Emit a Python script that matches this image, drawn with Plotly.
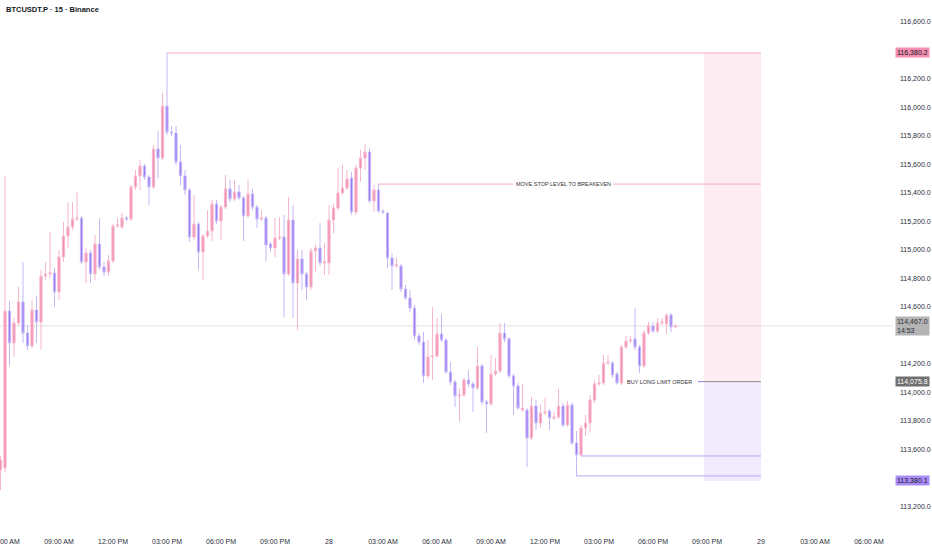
import pandas as pd
import plotly.graph_objs as go

# BTCUSDT.P 15m candles, 27 Jul 05:45 -> 28 Jul 19:15
opens = [113457, 113471, 114571, 114347, 114487, 114635, 114417, 114326, 114578, 114494,
         114817, 114831, 114838, 114705, 114950, 115097, 115160, 115216, 115223, 114915,
         114978, 114831, 115041, 114880, 114845, 114922, 115167, 115160, 115223, 115216,
         115441, 115518, 115588, 115511, 115441, 115707, 115644, 116008, 115826, 115819,
         115616, 115518, 115420, 115090, 115181, 114985, 115097, 115132, 115322, 115202,
         115300, 115427, 115357, 115406, 115364, 115237, 115392, 115300, 115216, 115223,
         115041, 115013, 115083, 115090, 114831, 115209, 114768, 114936, 114831, 114740,
         114992, 115013, 114908, 114908, 115209, 115293, 115399, 115434, 115504, 115265,
         115574, 115644, 115686, 115343, 115420, 115272, 115258, 114943, 114887, 114887,
         114726, 114663, 114592, 114396, 114354, 114116, 114249, 114256, 114410, 114368,
         114144, 114074, 113976, 113983, 114088, 114060, 114032, 114186, 113934, 113920,
         114130, 114151, 114417, 114375, 114116, 114046, 113877, 113877, 113681, 113905,
         113786, 113856, 113870, 113821, 113828, 113905, 113772, 113912, 113646, 113562,
         113751, 113786, 113948, 114060, 114067, 114207, 114207, 114130, 114067, 114319,
         114361, 114375, 114319, 114186, 114417, 114466, 114431, 114487, 114480, 114543,
         114459]
highs = [113555, 115518, 114642, 114522, 114740, 114915, 114473, 114649, 114677, 114859,
         114915, 115125, 114873, 114999, 115195, 115336, 115336, 115406, 115237, 115013,
         114999, 115104, 115223, 114915, 114964, 115181, 115223, 115258, 115237, 115455,
         115560, 115630, 115602, 115525, 115735, 115833, 116100, 116380.2, 115868, 115868,
         115735, 115560, 115434, 115385, 115195, 115111, 115279, 115350, 115350, 115314,
         115525, 115490, 115490, 115455, 115378, 115490, 115427, 115314, 115279, 115237,
         115055, 115223, 115230, 115244, 115371, 115314, 114999, 114999, 114845, 115013,
         115034, 115188, 115048, 115314, 115322, 115574, 115595, 115560, 115546, 115595,
         115700, 115742, 115714, 115455, 115462, 115286, 115265, 114978, 114943, 114901,
         114754, 114719, 114613, 114417, 114424, 114368, 114599, 114522, 114550, 114382,
         114214, 114088, 114032, 114102, 114158, 114074, 114319, 114200, 113948, 114263,
         114242, 114487, 114487, 114389, 114130, 114067, 114060, 113891, 113969, 113948,
         113912, 113962, 113884, 113863, 114025, 113927, 113941, 113927, 113730, 113772,
         113842, 113983, 114088, 114123, 114263, 114263, 114221, 114144, 114333, 114396,
         114396, 114592, 114333, 114438, 114494, 114494, 114522, 114522, 114557, 114557,
         114480]
lows = [113317, 113443, 114186, 114249, 114473, 114347, 114298, 114312, 114347, 114298,
        114789, 114803, 114599, 114649, 114915, 115013, 115139, 115202, 114901, 114768,
        114768, 114789, 114859, 114817, 114817, 114908, 115153, 115146, 115202, 115202,
        115420, 115420, 115490, 115314, 115427, 115504, 115630, 115805, 115798, 115595,
        115455, 115385, 115055, 115069, 114859, 114789, 115083, 115062, 115181, 115069,
        115286, 115336, 115343, 115350, 115062, 115223, 115279, 115153, 115202, 114915,
        114985, 114950, 115069, 114529, 114817, 114522, 114438, 114719, 114649, 114719,
        114845, 114887, 114824, 114824, 115118, 115279, 115385, 115420, 115244, 115244,
        115476, 115560, 115329, 115265, 115258, 115251, 114873, 114719, 114873, 114705,
        114649, 114564, 114368, 114333, 114067, 114102, 114088, 114242, 114354, 114130,
        114053, 113898, 113793, 113969, 114039, 113863, 114018, 113912, 113716, 113905,
        114116, 114137, 114354, 114102, 113842, 113877, 113863, 113478, 113667, 113737,
        113751, 113842, 113737, 113807, 113814, 113758, 113758, 113632, 113415, 113555,
        113695, 113723, 113927, 114046, 114053, 114193, 114102, 114053, 114053, 114305,
        114347, 114298, 114137, 114172, 114403, 114417, 114417, 114473, 114410, 114424,
        114452]
closes = [113527, 114571, 114347, 114487, 114635, 114417, 114326, 114578, 114494, 114817,
          114831, 114838, 114705, 114950, 115097, 115160, 115216, 115223, 114915, 114978,
          114831, 115041, 114880, 114845, 114922, 115167, 115174, 115223, 115216, 115441,
          115518, 115588, 115511, 115441, 115707, 115644, 116008, 115826, 115819, 115616,
          115518, 115420, 115090, 115181, 114985, 115097, 115132, 115322, 115202, 115300,
          115427, 115357, 115406, 115364, 115237, 115392, 115300, 115216, 115223, 115034,
          115013, 115083, 115090, 114831, 115209, 114768, 114936, 114831, 114740, 114992,
          115013, 114908, 114915, 115209, 115293, 115399, 115434, 115497, 115265, 115574,
          115644, 115686, 115343, 115420, 115272, 115265, 114943, 114887, 114894, 114726,
          114663, 114592, 114396, 114354, 114116, 114249, 114256, 114410, 114368, 114144,
          114074, 113976, 113983, 114088, 114060, 114032, 114186, 113934, 113920, 114130,
          114151, 114417, 114375, 114116, 114046, 113891, 113891, 113681, 113905, 113786,
          113856, 113863, 113821, 113828, 113905, 113772, 113912, 113646, 113562, 113751,
          113786, 113948, 114060, 114067, 114207, 114214, 114123, 114067, 114319, 114361,
          114368, 114319, 114186, 114417, 114466, 114431, 114487, 114494, 114543, 114459,
          114467.0]

times = pd.date_range("2025-07-27 05:45", periods=len(closes), freq="15min")

tick_times = ["2025-07-27 06:00", "2025-07-27 09:00", "2025-07-27 12:00", "2025-07-27 15:00",
              "2025-07-27 18:00", "2025-07-27 21:00", "2025-07-28 00:00", "2025-07-28 03:00",
              "2025-07-28 06:00", "2025-07-28 09:00", "2025-07-28 12:00", "2025-07-28 15:00",
              "2025-07-28 18:00", "2025-07-28 21:00", "2025-07-29 00:00", "2025-07-29 03:00",
              "2025-07-29 06:00"]
tick_labels = ["06:00 AM", "09:00 AM", "12:00 PM", "03:00 PM", "06:00 PM", "09:00 PM", "28",
               "03:00 AM", "06:00 AM", "09:00 AM", "12:00 PM", "03:00 PM", "06:00 PM",
               "09:00 PM", "29", "03:00 AM", "06:00 AM"]
# 116,400 / 114,400 / 113,400 sit behind the price tags, so they are left out
price_ticks = [113200, 113600, 113800, 114000, 114200, 114600, 114800,
               115000, 115200, 115400, 115600, 115800, 116000, 116200, 116600]

# drawn levels
target = 116380.2
stop_move = 115461
entry = 114075.8
stop = 113380.1
swing_low = 113415
swing_low2 = 113555
last_price = 114467.0

PINK = "#f48fb1"
PURPLE = "#9b7df5"
FONT = "Liberation Sans, Arial, sans-serif"

candles = go.Candlestick(
    x=times, open=opens, high=highs, low=lows, close=closes,
    increasing={"fillcolor": PINK, "line": {"color": "#f7b6cf", "width": 1}},
    decreasing={"fillcolor": PURPLE, "line": {"color": "#c6b8f8", "width": 1}},
    whiskerwidth=0,
    showlegend=False,
    hoverinfo="skip",
)

box_left = "2025-07-28 20:50"
box_right = "2025-07-29 00:00"

shapes = [
    dict(type="rect", x0=box_left, x1=box_right, y0=entry, y1=target,
         fillcolor="rgba(244,143,177,0.17)", line={"width": 0}, layer="below"),
    dict(type="rect", x0=box_left, x1=box_right, y0=stop, y1=entry,
         fillcolor="rgba(155,125,245,0.15)", line={"width": 0}, layer="below"),
    dict(type="line", x0="2025-07-27 15:00", x1=box_right, y0=target, y1=target,
         line={"color": "#f6aac8", "width": 1}),
    dict(type="line", x0="2025-07-28 02:45", x1=box_right, y0=stop_move, y1=stop_move,
         line={"color": "#f6aac8", "width": 1}),
    dict(type="line", x0="2025-07-28 14:00", x1=box_right, y0=swing_low2, y1=swing_low2,
         line={"color": "#b7a6f5", "width": 1}),
    dict(type="line", x0="2025-07-28 13:45", x1=box_right, y0=swing_low, y1=swing_low,
         line={"color": "#b7a6f5", "width": 1}),
    dict(type="line", x0="2025-07-28 20:30", x1=box_left, y0=entry, y1=entry,
         line={"color": "#9b7df5", "width": 1}),
    dict(type="line", x0=box_left, x1=box_right, y0=entry, y1=entry,
         line={"color": "#8a8a8a", "width": 1}),
    dict(type="line", xref="paper", x0=0, x1=1, y0=last_price, y1=last_price,
         line={"color": "rgba(205,205,205,0.6)", "width": 1}, layer="below"),
]

def price_tag(y, text, bg, fg):
    return dict(xref="paper", x=1, y=y, xanchor="left", yanchor="middle", xshift=2,
                text=text, showarrow=False, bgcolor=bg, borderpad=1, align="left",
                font={"family": FONT, "size": 7, "color": fg})

annotations = [
    dict(xref="paper", yref="paper", x=0, y=1, xanchor="left", yanchor="top",
         xshift=4, yshift=-3, text="<b>BTCUSDT.P · 15 · Binance</b>", showarrow=False,
         font={"family": FONT, "size": 7.5, "color": "#131722"}),
    dict(x="2025-07-28 13:00", y=stop_move, text="MOVE STOP LEVEL TO BREAKEVEN",
         showarrow=False, bgcolor="white", borderpad=2,
         font={"family": FONT, "size": 5.5, "color": "#333333"}),
    dict(x="2025-07-28 20:15", y=entry, xanchor="right", text="BUY LONG LIMIT ORDER",
         showarrow=False, font={"family": FONT, "size": 5.5, "color": "#333333"}),
    price_tag(target, "116,380.2", "#f48fb1", "#131722"),
    price_tag(last_price, "114,467.0<br>14:53", "#b4b4b4", "#2a2e39"),
    price_tag(entry, "114,075.8", "#707070", "white"),
    price_tag(stop, "113,380.1", "#a98cf7", "#131722"),
]

layout = go.Layout(
    width=932, height=550,
    margin={"l": 0, "r": 39, "t": 0, "b": 26},
    paper_bgcolor="white", plot_bgcolor="white",
    font={"family": FONT, "size": 7, "color": "#2a2e39"},
    xaxis={"type": "date", "range": ["2025-07-27 05:43:20", "2025-07-29 07:20"],
           "rangeslider": {"visible": False}, "showgrid": False, "zeroline": False,
           "tickvals": tick_times, "ticktext": tick_labels, "ticks": "",
           "ticklabelstandoff": 12, "ticklabeloverflow": "allow", "automargin": False},
    yaxis={"side": "right", "range": [113078, 116751.5], "showgrid": False,
           "zeroline": False, "tickvals": price_ticks, "tickformat": ",.1f",
           "ticks": "", "ticklabelstandoff": 6, "automargin": False},
    shapes=shapes,
    annotations=annotations,
)

fig = go.Figure(data=[candles], layout=layout)
# page body has an 8px default margin; drop it so the figure fills the window
fig.write_html("out.html", config={"displayModeBar": False},
               post_script="document.body.style.margin = '0';")
